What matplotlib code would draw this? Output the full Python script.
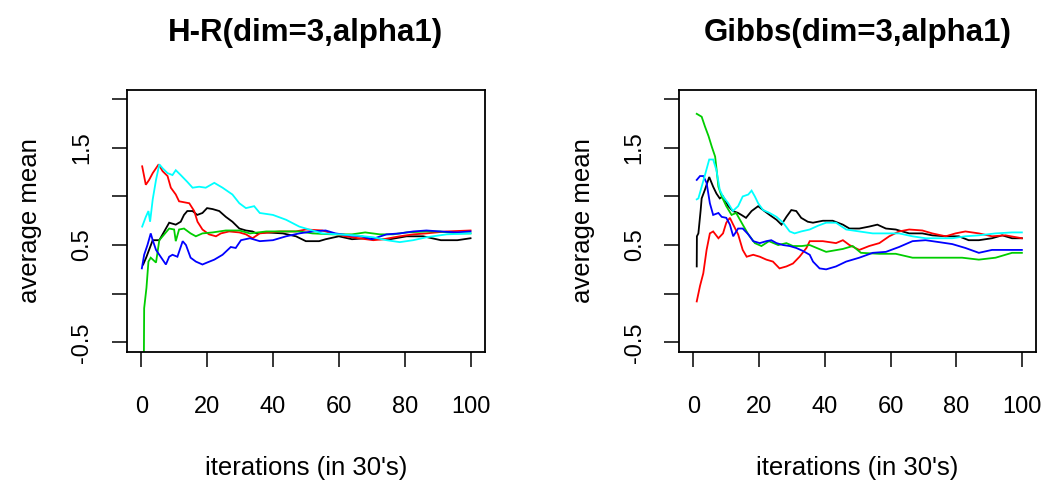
import matplotlib
matplotlib.use('Agg')
import matplotlib.pyplot as plt

# ---------------- data: H-R panel ----------------
hr_black_x = [0.6, 1.5, 3.5, 5.5, 7, 8.5, 10.5, 12, 13, 14, 15.6, 17, 18.6, 20, 21.7, 23.7, 25.7, 27.7,
              29.8, 31.8, 33.8, 35, 38, 43, 47, 50, 54, 56, 60, 64, 68, 72.5, 75.5, 80.6, 85.6, 91, 96, 100]
hr_black_y = [0.30, 0.37, 0.55, 0.55, 0.64, 0.73, 0.71, 0.74, 0.81, 0.85, 0.85, 0.81, 0.83, 0.88, 0.87, 0.85,
              0.79, 0.74, 0.67, 0.65, 0.64, 0.62, 0.63, 0.62, 0.59, 0.54, 0.54, 0.56, 0.59, 0.56, 0.57, 0.56,
              0.56, 0.59, 0.59, 0.55, 0.55, 0.57]

hr_red_x = [0.3, 1.4, 2.4, 3.5, 5.3, 6.5, 8, 9, 10.5, 11.5, 14.6, 16.1, 17.1, 18.6, 20.6, 22.7, 24.2, 26.7,
            29.8, 31.8, 33.8, 36, 42, 47, 50, 55, 58, 62, 66, 70.5, 73.5, 78.5, 82.6, 86.6, 92.7, 100]
hr_red_y = [1.31, 1.12, 1.17, 1.24, 1.33, 1.26, 1.21, 1.09, 1.02, 0.95, 0.93, 0.85, 0.74, 0.66, 0.61, 0.59,
            0.62, 0.64, 0.63, 0.61, 0.57, 0.62, 0.64, 0.64, 0.66, 0.65, 0.62, 0.59, 0.57, 0.55, 0.56, 0.59,
            0.61, 0.62, 0.64, 0.65]

hr_cyan_x = [0.3, 1.4, 2.2, 2.7, 3.5, 4.5, 5.5, 6.5, 8, 9.5, 10.5, 12, 14, 15.6, 17.6, 19.6, 22.2, 24.7,
             27.7, 29.8, 31.8, 34.3, 36, 40, 44, 48, 51, 55, 60, 65, 70.5, 74.5, 78.5, 82.6, 86.6, 92.7, 100]
hr_cyan_y = [0.69, 0.79, 0.85, 0.74, 0.97, 1.17, 1.33, 1.29, 1.24, 1.22, 1.27, 1.22, 1.15, 1.09, 1.10, 1.09,
             1.14, 1.09, 1.02, 0.93, 0.88, 0.90, 0.83, 0.81, 0.76, 0.69, 0.66, 0.62, 0.61, 0.60, 0.58, 0.55,
             0.53, 0.55, 0.58, 0.61, 0.62]

hr_green_x = [0.8, 0.9, 1.6, 2.2, 2.9, 4.5, 5.5, 6.5, 8.5, 10, 10.5, 11.5, 13, 15, 16.6, 18.6, 21.7, 25.7,
              29.8, 33, 38, 43, 48, 52, 58, 64, 68, 72.5, 76.5, 80.6, 86.6, 90.7, 95.7, 100]
hr_green_y = [-0.75, -0.15, 0.06, 0.33, 0.37, 0.32, 0.55, 0.59, 0.67, 0.66, 0.54, 0.66, 0.67, 0.62, 0.59,
              0.62, 0.63, 0.65, 0.65, 0.62, 0.64, 0.64, 0.64, 0.62, 0.61, 0.61, 0.63, 0.61, 0.61, 0.63, 0.64,
              0.64, 0.62, 0.62]

hr_blue_x = [0.2, 0.9, 1.9, 2.9, 3.5, 4.5, 5.5, 6.5, 7.5, 8.5, 9.5, 11, 12.6, 13.6, 15, 16.6, 18.6, 20, 22.2,
             24.7, 27.2, 28.7, 30.3, 33, 36, 40, 44, 48, 52, 56, 59, 63, 67, 70, 74.5, 78.5, 82.6, 86.6,
             90.7, 95.7, 100]
hr_blue_y = [0.26, 0.40, 0.50, 0.62, 0.55, 0.45, 0.40, 0.35, 0.30, 0.38, 0.40, 0.38, 0.54, 0.50, 0.37, 0.33,
             0.30, 0.32, 0.35, 0.40, 0.48, 0.47, 0.55, 0.57, 0.54, 0.55, 0.59, 0.62, 0.64, 0.65, 0.62, 0.60,
             0.59, 0.56, 0.61, 0.62, 0.64, 0.65, 0.64, 0.63, 0.64]

# ---------------- data: Gibbs panel ----------------
gb_black_x = [1, 1.05, 1.5, 2.2, 2.5, 3.5, 4.8, 6, 7, 8, 9, 10.6, 12, 13.6, 14.6, 16, 17.7, 19.7, 21.2,
              23.2, 25.3, 26.8, 28.3, 29.8, 31.3, 32.8, 34.8, 36.4, 39.4, 42.4, 45.5, 47.5, 50.5, 53.5, 56,
              58.6, 61.6, 65.7, 69.7, 72.7, 76.8, 80.8, 83.8, 86.9, 90.9, 94, 97, 100]
gb_black_y = [0.28, 0.59, 0.62, 0.86, 0.98, 1.07, 1.20, 1.10, 1.03, 0.98, 1.00, 0.90, 0.85, 0.83, 0.81, 0.78,
              0.85, 0.90, 0.86, 0.81, 0.76, 0.71, 0.79, 0.86, 0.85, 0.78, 0.74, 0.73, 0.75, 0.75, 0.71, 0.67,
              0.67, 0.69, 0.71, 0.67, 0.66, 0.62, 0.62, 0.60, 0.59, 0.59, 0.55, 0.55, 0.57, 0.60, 0.57, 0.57]

gb_red_x = [1, 2, 3, 4, 5, 6, 7.6, 9, 10, 11.1, 12.1, 13.6, 15, 16.2, 18.2, 20.2, 22.2, 24.2, 26.2, 28.3,
            30.3, 32.3, 34.4, 35.4, 36.4, 39.4, 43.4, 45.5, 47.5, 50.5, 53.5, 56.6, 59.6, 62.6, 65.7, 69.7,
            72.7, 76.8, 79.8, 82.8, 86.9, 90.9, 95, 100]
gb_red_y = [-0.08, 0.08, 0.21, 0.45, 0.62, 0.64, 0.57, 0.62, 0.73, 0.78, 0.71, 0.61, 0.45, 0.38, 0.40, 0.38,
            0.35, 0.33, 0.26, 0.28, 0.31, 0.38, 0.47, 0.54, 0.54, 0.54, 0.52, 0.55, 0.50, 0.45, 0.49, 0.52,
            0.59, 0.64, 0.66, 0.65, 0.62, 0.59, 0.62, 0.64, 0.62, 0.59, 0.60, 0.57]

gb_green_x = [1, 2.5, 3.5, 4.6, 5.6, 6.6, 7.1, 7.6, 8.6, 10, 11.6, 13, 15, 16.7, 18.7, 20.7, 23, 25.8, 28.3,
              30.3, 33, 35.4, 40.4, 45.5, 48.5, 51, 56.6, 61.6, 66.7, 72.7, 76.8, 81.8, 86.9, 92, 97, 100]
gb_green_y = [1.85, 1.82, 1.72, 1.62, 1.51, 1.41, 1.26, 1.10, 1.00, 0.90, 0.81, 0.83, 0.71, 0.61, 0.52, 0.49,
              0.54, 0.50, 0.52, 0.49, 0.49, 0.50, 0.43, 0.46, 0.49, 0.42, 0.41, 0.41, 0.37, 0.37, 0.37, 0.37,
              0.35, 0.37, 0.42, 0.42]

gb_blue_x = [1, 2, 3, 4, 5, 6, 7.6, 8.6, 10, 11.1, 12.1, 13.6, 15, 16.7, 18.2, 20.2, 22.2, 23.7, 25.3, 27.3,
             29.3, 31.3, 33.3, 35.4, 36.4, 38.4, 40.4, 43.4, 46.5, 50.5, 54.6, 58.6, 62.6, 66.7, 70.7, 74.8,
             78.8, 82.8, 86.9, 90.9, 97, 100]
gb_blue_y = [1.17, 1.21, 1.21, 1.14, 0.93, 0.81, 0.83, 0.79, 0.78, 0.71, 0.59, 0.67, 0.67, 0.61, 0.54, 0.52,
             0.54, 0.55, 0.52, 0.50, 0.49, 0.47, 0.44, 0.40, 0.33, 0.26, 0.25, 0.28, 0.33, 0.37, 0.42, 0.43,
             0.48, 0.54, 0.55, 0.53, 0.51, 0.47, 0.42, 0.45, 0.45, 0.45]

gb_cyan_x = [1, 1.5, 2.5, 3.5, 4.8, 6, 7, 8, 9, 10.6, 12, 13.6, 15, 16.7, 17.7, 18.7, 19.7, 21.2, 23.2, 25.3,
             27.3, 29.3, 30.8, 32.8, 35.4, 38, 40.4, 43.4, 46.5, 50.5, 54.6, 58.6, 62.6, 66.7, 70.7, 74.8,
             78.8, 82.8, 86.9, 92, 97, 100]
gb_cyan_y = [0.97, 0.98, 1.10, 1.22, 1.38, 1.38, 1.27, 1.07, 1.00, 0.93, 0.85, 0.90, 1.00, 1.02, 1.06, 1.00,
             0.93, 0.86, 0.83, 0.79, 0.73, 0.64, 0.62, 0.64, 0.66, 0.70, 0.73, 0.73, 0.66, 0.64, 0.62, 0.62,
             0.62, 0.59, 0.57, 0.57, 0.57, 0.59, 0.60, 0.62, 0.63, 0.63]

titles = ["H-R(dim=3,alpha1)", "Gibbs(dim=3,alpha1)"]
xlabel = "iterations (in 30's)"
ylabel = "average mean"
xticks = [0, 20, 40, 60, 80, 100]
yticks = [-0.5, 0.0, 0.5, 1.0, 1.5, 2.0]
yticklabels = ["-0.5", "", "0.5", "", "1.5", ""]

colors = {"black": "#000000", "red": "#FF0000", "green": "#00CD00", "blue": "#0000FF", "cyan": "#00FFFF"}

panels = [
    [("black", hr_black_x, hr_black_y), ("red", hr_red_x, hr_red_y), ("green", hr_green_x, hr_green_y),
     ("blue", hr_blue_x, hr_blue_y), ("cyan", hr_cyan_x, hr_cyan_y)],
    [("black", gb_black_x, gb_black_y), ("red", gb_red_x, gb_red_y), ("green", gb_green_x, gb_green_y),
     ("blue", gb_blue_x, gb_blue_y), ("cyan", gb_cyan_x, gb_cyan_y)],
]

plt.rcParams['font.family'] = ['Liberation Sans', 'DejaVu Sans']

W, H = 1045, 482
fig = plt.figure(figsize=(W / 100, H / 100), dpi=100)
fig.patch.set_facecolor('white')

ax_px = [(126.7, 484.7), (679.0, 1036.0)]
top_px, bot_px = 90.0, 351.7

for i, (x0, x1) in enumerate(ax_px):
    ax = fig.add_axes([x0 / W, 1 - bot_px / H, (x1 - x0) / W, (bot_px - top_px) / H])
    for cname, xs, ys in panels[i]:
        ax.plot(xs, ys, color=colors[cname], lw=1.3, solid_joinstyle='miter')
    ax.set_xlim(-4.4, 104.3)
    ax.set_ylim(-0.597, 2.095)
    ax.set_xticks(xticks)
    ax.set_xticklabels([str(t) for t in xticks])
    ax.set_yticks(yticks)
    ax.set_yticklabels(yticklabels, rotation=90, va='center')
    ax.tick_params(axis='both', direction='out', length=11, width=1.1, labelsize=17, color='black')
    ax.tick_params(axis='x', pad=21)
    ax.tick_params(axis='y', pad=13)
    for s in ax.spines.values():
        s.set_linewidth(1.3)
        s.set_color('black')
    ax.text(0.5, 1.218, titles[i], transform=ax.transAxes, ha='center', va='center',
            fontsize=22.5, fontweight='bold')
    ax.text(0.5, -0.445, xlabel, transform=ax.transAxes, ha='center', va='center', fontsize=18.5)
    ax.text(-0.27, 0.5, ylabel, transform=ax.transAxes, ha='center', va='center', rotation=90,
            fontsize=18.5)

fig.savefig('out.png', dpi=100)
